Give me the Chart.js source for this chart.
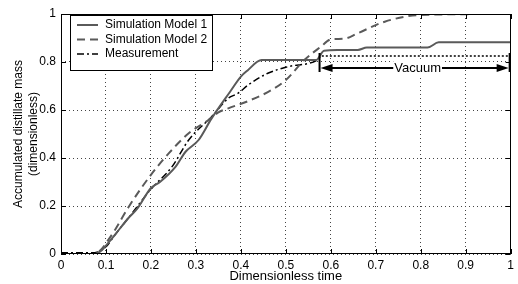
<!DOCTYPE html>
<html>
<head>
<meta charset="utf-8">
<script src="https://cdn.jsdelivr.net/npm/chart.js@4/dist/chart.umd.min.js"></script>
<style>
  html, body { margin: 0; padding: 0; background: #fff; }
  #wrap { width: 518px; height: 284px; }
</style>
</head>
<body>
<div id="wrap"><canvas id="chart" width="518" height="284"></canvas></div>
<script>
// values
const model1T = [0, 0.075, 0.09, 0.1, 0.12, 0.15, 0.17, 0.2, 0.22, 0.255, 0.277, 0.306, 0.335, 0.376, 0.4, 0.415, 0.446, 0.567, 0.585, 0.615, 0.66, 0.68, 0.815, 0.84, 1];
const model1V = [0, 0, 0.015, 0.035, 0.08, 0.15, 0.19, 0.275, 0.3, 0.364, 0.426, 0.475, 0.565, 0.676, 0.739, 0.765, 0.808, 0.808, 0.847, 0.85, 0.85, 0.86, 0.86, 0.882, 0.882];

const model2T = [0, 0.075, 0.09, 0.1, 0.12, 0.15, 0.2, 0.24, 0.284, 0.328, 0.35, 0.372, 0.416, 0.468, 0.5, 0.541, 0.578, 0.6, 0.63, 0.66, 0.72, 0.8, 1];
const model2V = [0, 0, 0.02, 0.045, 0.1, 0.195, 0.33, 0.42, 0.503, 0.558, 0.59, 0.607, 0.637, 0.683, 0.725, 0.808, 0.864, 0.894, 0.897, 0.92, 0.968, 0.996, 1.0];

const measT = [0, 0.07, 0.08, 0.1, 0.12, 0.15, 0.2, 0.247, 0.284, 0.335, 0.372, 0.394, 0.416, 0.46, 0.504, 0.57, 0.58, 1.0];
const measV = [0.005, 0.005, 0.008, 0.03, 0.08, 0.15, 0.27, 0.364, 0.475, 0.572, 0.649, 0.67, 0.704, 0.753, 0.78, 0.808, 0.825, 0.825];

const xTicks = [0, 0.1, 0.2, 0.3, 0.4, 0.5, 0.6, 0.7, 0.8, 0.9, 1];
const yTicks = [0, 0.2, 0.4, 0.6, 0.8, 1];

// vacuum span annotation
const vacuumLabel = 'Vacuum';
const vacuumSpan = [0.575, 1];
const vacuumY = 0.775;
const vacuumBar = [0.758, 0.838];

const toPoints = (t, v) => t.map((x, i) => ({ x: x, y: v[i] }));
const FONT = 'Liberation Sans, Arial, sans-serif';

// MATLAB style inward ticks on all four sides
const innerTicks = {
  id: 'innerTicks',
  afterDraw(chart) {
    const { ctx, chartArea: a, scales: { x, y } } = chart;
    ctx.save();
    ctx.strokeStyle = '#000';
    ctx.lineWidth = 1;
    ctx.beginPath();
    xTicks.forEach(t => {
      const px = Math.round(x.getPixelForValue(t)) + 0.5;
      ctx.moveTo(px, a.bottom); ctx.lineTo(px, a.bottom - 5);
      ctx.moveTo(px, a.top); ctx.lineTo(px, a.top + 5);
    });
    yTicks.forEach(v => {
      const py = Math.round(y.getPixelForValue(v)) + 0.5;
      ctx.moveTo(a.left, py); ctx.lineTo(a.left + 5, py);
      ctx.moveTo(a.right, py); ctx.lineTo(a.right - 5, py);
    });
    ctx.stroke();
    ctx.strokeRect(Math.round(a.left) + 0.5, Math.round(a.top) + 0.5, Math.round(a.width) - 1, Math.round(a.height) - 1);
    ctx.restore();
  }
};

// double arrow with the label "Vacuum"
const vacuumArrow = {
  id: 'vacuumArrow',
  afterDatasetsDraw(chart) {
    const { ctx, scales: { x, y } } = chart;
    const x1 = x.getPixelForValue(vacuumSpan[0]);
    const x2 = x.getPixelForValue(vacuumSpan[1]) - 1;
    const py = y.getPixelForValue(vacuumY);
    const yTop = y.getPixelForValue(vacuumBar[1]);
    const yBot = y.getPixelForValue(vacuumBar[0]);
    ctx.save();
    ctx.strokeStyle = '#000';
    ctx.fillStyle = '#000';
    ctx.lineWidth = 2;
    ctx.beginPath();
    ctx.moveTo(x1, yTop); ctx.lineTo(x1, yBot);
    ctx.moveTo(x2, yTop); ctx.lineTo(x2, yBot);
    ctx.moveTo(x1 + 10, py); ctx.lineTo(x2 - 10, py);
    ctx.stroke();
    ctx.beginPath();
    ctx.moveTo(x1 + 1, py); ctx.lineTo(x1 + 13, py - 4); ctx.lineTo(x1 + 13, py + 4); ctx.closePath();
    ctx.moveTo(x2 - 1, py); ctx.lineTo(x2 - 13, py - 4); ctx.lineTo(x2 - 13, py + 4); ctx.closePath();
    ctx.fill();
    ctx.font = '13px ' + FONT;
    const w = ctx.measureText(vacuumLabel).width;
    const cx = (x1 + x2) / 2 + 3;
    ctx.fillStyle = '#fff';
    ctx.fillRect(cx - w / 2 - 1, py - 7, w + 2, 14);
    ctx.fillStyle = '#000';
    ctx.textAlign = 'center';
    ctx.textBaseline = 'middle';
    ctx.fillText(vacuumLabel, cx, py);
    ctx.restore();
  }
};

// boxed legend in the upper left of the plot
const boxLegend = {
  id: 'boxLegend',
  afterDraw(chart) {
    const { ctx, chartArea: a } = chart;
    const left = a.left + 9, top = a.top + 1, w = 142, h = 55;
    ctx.save();
    ctx.fillStyle = '#fff';
    ctx.fillRect(left, top, w, h);
    ctx.strokeStyle = '#000';
    ctx.lineWidth = 1;
    ctx.strokeRect(left + 0.5, top + 0.5, w, h);
    ctx.font = '12px ' + FONT;
    ctx.textBaseline = 'middle';
    chart.data.datasets.forEach((ds, i) => {
      const ry = top + 10 + i * 14.5;
      ctx.strokeStyle = ds.borderColor;
      ctx.lineWidth = ds.borderWidth;
      ctx.setLineDash(ds.borderDash || []);
      ctx.beginPath();
      ctx.moveTo(left + 7, ry); ctx.lineTo(left + 28, ry);
      ctx.stroke();
      ctx.setLineDash([]);
      ctx.fillStyle = '#000';
      ctx.fillText(ds.label, left + 35, ry);
    });
    ctx.restore();
  }
};

new Chart(document.getElementById('chart'), {
  type: 'line',
  data: {
    datasets: [
      {
        label: 'Simulation Model 1',
        data: toPoints(model1T, model1V),
        borderColor: '#5a5a5a',
        borderWidth: 2,
        pointRadius: 0,
        cubicInterpolationMode: 'monotone'
      },
      {
        label: 'Simulation Model 2',
        data: toPoints(model2T, model2V),
        borderColor: '#5a5a5a',
        borderWidth: 2,
        borderDash: [8, 5],
        pointRadius: 0,
        cubicInterpolationMode: 'monotone'
      },
      {
        label: 'Measurement',
        data: toPoints(measT, measV),
        borderColor: '#000',
        borderWidth: 1.5,
        borderDash: [7, 3, 2, 3],
        pointRadius: 0,
        cubicInterpolationMode: 'monotone',
        segment: {
          borderDash: c => c.p0.parsed.x >= 0.58 ? [2, 2] : undefined
        }
      }
    ]
  },
  options: {
    responsive: false,
    animation: false,
    layout: { padding: { top: 14, right: 3, left: 11, bottom: 0 } },
    plugins: {
      legend: { display: false },
      tooltip: { enabled: false }
    },
    scales: {
      x: {
        type: 'linear',
        min: 0,
        max: 1,
        afterFit: s => { s.height = 30; },
        afterBuildTicks: s => { s.ticks = xTicks.map(v => ({ value: v })); },
        grid: { color: '#444', lineWidth: 1, drawTicks: false },
        border: { display: false, dash: [1, 3] },
        ticks: {
          padding: 4,
          color: '#000',
          font: { family: FONT, size: 12 },
          callback: v => String(Math.round(v * 10) / 10)
        },
        title: {
          display: true,
          text: 'Dimensionless time',
          color: '#000',
          font: { family: FONT, size: 13 },
          padding: { top: 0, bottom: 0 }
        }
      },
      y: {
        type: 'linear',
        min: 0,
        max: 1,
        afterFit: s => { s.width = 50; },
        afterBuildTicks: s => { s.ticks = yTicks.map(v => ({ value: v })); },
        grid: { color: '#444', lineWidth: 1, drawTicks: false },
        border: { display: false, dash: [1, 3] },
        ticks: {
          padding: 5,
          color: '#000',
          font: { family: FONT, size: 12 },
          callback: v => String(Math.round(v * 10) / 10)
        },
        title: {
          display: true,
          text: ['Accumulated distillate mass', '(dimensionless)'],
          color: '#000',
          font: { family: FONT, size: 12, lineHeight: 1.25 },
          padding: { top: 0, bottom: 0 }
        }
      }
    }
  },
  plugins: [innerTicks, vacuumArrow, boxLegend]
});
</script>
</body>
</html>
